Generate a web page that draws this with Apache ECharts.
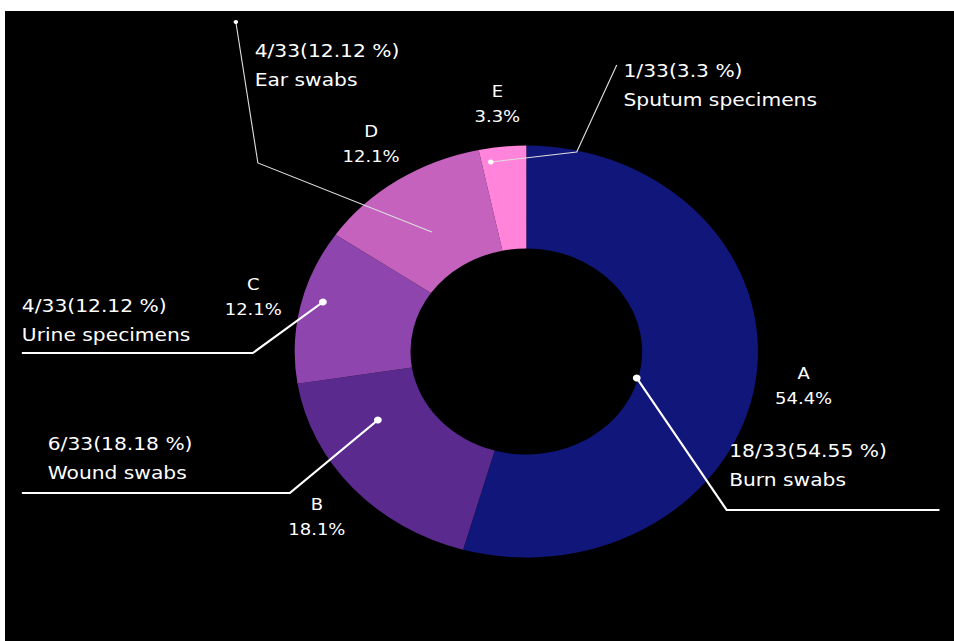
<!DOCTYPE html>
<html>
<head>
<meta charset="utf-8">
<script src="https://cdn.jsdelivr.net/npm/echarts@6/dist/echarts.min.js"></script>
<style>
  html, body { margin: 0; padding: 0; background: #ffffff; width: 954px; height: 641px; overflow: hidden; }
  #chart { position: absolute; left: 5px; top: 11px; width: 844px; height: 630px;
           transform: scaleX(1.1245); transform-origin: 0 0; background: #000000; }
</style>
</head>
<body>
<div id="chart"></div>
<script>
// ---- data ----
const categories = ['A', 'B', 'C', 'D', 'E'];
const specimens = ['Burn swabs', 'Wound swabs', 'Urine specimens', 'Ear swabs', 'Sputum specimens'];
const sharePercent = [54.4, 18.1, 12.1, 12.1, 3.3];
const counts = [18, 6, 4, 4, 1];
const totalCount = 33;
const countPercentLabels = ['54.55', '18.18', '12.12', '12.12', '3.3'];

// ---- styling / layout ----
const colors = ['#10167a', '#5a2a8e', '#8e45ae', '#c462be', '#ff84da'];
const CENTER = [463.6, 340.5];
const RADIUS = [103, 206];
const FONT = 'DejaVu Sans';
// leader line layout for the outer annotations (chart pixel space)
const LEADERS = [
  { text: [644, 425], start: [561.8, 367], bend: [641.8, 499], end: [831, 499], dot: 'start', w: 2, c: '#ffffff', r: 3.5 },
  { text: [38, 418], start: [331.6, 409], bend: [253.3, 482], end: [15, 482], dot: 'start', w: 2, c: '#ffffff', r: 3.5 },
  { text: [15, 280], start: [282.7, 291], bend: [220.4, 342], end: [15, 342], dot: 'start', w: 2, c: '#ffffff', r: 3.5 },
  { text: [222, 25], start: [379.6, 221], bend: [224.9, 152], end: [205.3, 11], dot: 'end', w: 1, c: '#dddddd', r: 2 },
  { text: [550, 45], start: [432, 151], bend: [508.4, 141], end: [544, 54], dot: 'start', w: 1, c: '#dddddd', r: 2.5 }
];

const chart = echarts.init(document.getElementById('chart'), null, { renderer: 'svg' });

const donutData = categories.map((c, i) => ({ name: c, value: sharePercent[i], itemStyle: { color: colors[i] } }));
const ringData = categories.map((c, i) => ({ name: c, value: sharePercent[i] }));
const noteData = categories.map((c, i) => ({
  name: specimens[i], value: sharePercent[i],
  labelLine: { lineStyle: { width: LEADERS[i].w, color: LEADERS[i].c } }
}));

const dots = LEADERS.map(L => {
  const p = L.dot === 'start' ? L.start : L.end;
  return { type: 'circle', z: 100, silent: true, shape: { cx: p[0], cy: p[1], r: L.r }, style: { fill: '#ffffff' } };
});

chart.setOption({
  backgroundColor: '#000000',
  animation: false,
  graphic: dots,
  series: [
    {
      type: 'pie', z: 1, center: CENTER, radius: RADIUS, startAngle: 90, clockwise: true,
      silent: true, label: { show: false }, labelLine: { show: false },
      data: donutData
    },
    {
      type: 'pie', z: 2, center: CENTER, radius: [RADIUS[1], RADIUS[1] + 80], startAngle: 90, clockwise: true,
      silent: true, itemStyle: { color: 'rgba(0,0,0,0)' },
      label: { show: true, position: 'inside', formatter: '{b}\n{c}%', color: '#ffffff',
               fontFamily: FONT, fontSize: 16, lineHeight: 25 },
      labelLine: { show: false },
      data: ringData
    },
    {
      type: 'pie', z: 5, center: CENTER, radius: RADIUS, startAngle: 90, clockwise: true,
      silent: true, avoidLabelOverlap: false, itemStyle: { color: 'rgba(0,0,0,0)' },
      label: {
        show: true, position: 'outside', color: '#ffffff', fontFamily: FONT, fontSize: 18, lineHeight: 29,
        formatter: p => counts[p.dataIndex] + '/' + totalCount + '(' + countPercentLabels[p.dataIndex] + ' %)\n' + specimens[p.dataIndex]
      },
      labelLine: { show: true, lineStyle: { color: '#ffffff', width: 2 } },
      labelLayout: function (params) {
        const L = LEADERS[params.dataIndex];
        return { x: L.text[0], y: L.text[1], align: 'left', verticalAlign: 'top',
                 labelLinePoints: [L.start, L.bend, L.end] };
      },
      data: noteData
    }
  ]
});
</script>
</body>
</html>
